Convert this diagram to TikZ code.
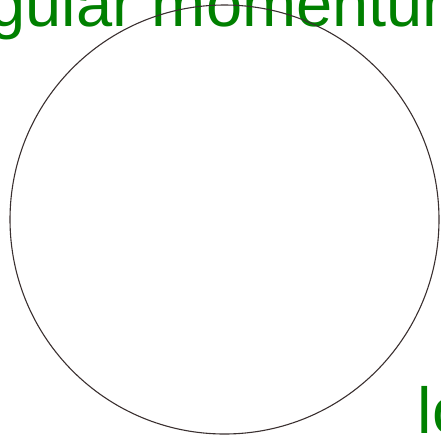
\documentclass[tikz,border=0pt]{standalone}
\usepackage{fontspec}
\setmainfont{Liberation Sans}
\usepackage{tikz}
\tikzset{
  lbl/.style={anchor=base west, inner sep=0pt, text=green!50!black, font=\fontsize{65}{78}\selectfont},
  ring/.style={circle, draw={rgb,255:red,58;green,48;blue,48}, line width=1.1pt, inner sep=0pt, minimum size=429pt}
}

\begin{document}
\begin{tikzpicture}[x=1pt,y=1pt,yscale=-1,xscale=1]
\useasboundingbox (0,0) rectangle (441,437);
\clip (0,0) rectangle (441,437);

% Text Node
\node [lbl] (title) at (-83,26) {angular momentum};
% Text Node
\node [lbl] (loopname) at (417.5,433) {lo};

%Shape: Circle
\node [ring] (loop) at (224.5,219.5) {};

\end{tikzpicture}
\end{document}
